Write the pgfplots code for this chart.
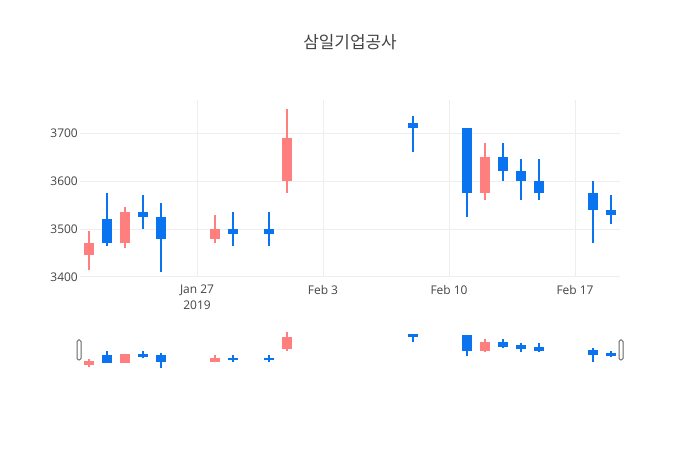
\documentclass[border=0pt]{standalone}
\usepackage{fontspec}
\setmainfont{Open Sans}
\newfontfamily\kr{Noto Sans CJK KR}
\usepackage{pgfplots}
\usepackage{pgfplotstable}
\pgfplotsset{compat=1.18}

\definecolor{upc}{HTML}{FF7F7F}
\definecolor{downc}{HTML}{0A73F0}
\definecolor{txt}{HTML}{444444}
\definecolor{gridc}{HTML}{EEEEEE}
\definecolor{handle}{HTML}{666666}

% day offset from Jan 27 2019
\pgfplotstableread{
d open high low close
-6 3445 3495 3415 3470
-4 3470 3545 3460 3535
1 3480 3530 3470 3500
5 3600 3750 3575 3690
16 3575 3680 3560 3650
}\upcandles

\pgfplotstableread{
d open high low close
-5 3520 3575 3465 3470
-3 3535 3570 3500 3525
-2 3525 3555 3410 3480
2 3500 3535 3465 3490
4 3500 3535 3465 3490
12 3720 3735 3660 3710
15 3710 3710 3525 3575
17 3650 3680 3600 3620
18 3620 3645 3560 3600
19 3600 3645 3560 3575
22 3575 3600 3470 3540
23 3540 3570 3510 3530
}\downcandles

\pgfplotsset{
  wick/.style={draw=none, mark=none, forget plot,
    error bars/.cd, y dir=plus, y explicit, error mark=none,
    error bar style={draw=#1, line width=2bp}},
  body/.style={draw=none, mark=none, forget plot,
    error bars/.cd, y dir=plus, y explicit, error mark=none,
    error bar style={draw=#1, line width=10.8bp}},
}

% #1: extra body height (data units) at each end, for the 1px outline
\newcommand{\candles}[1]{%
  \addplot[wick=upc] table[x=d, y=low, y error plus expr=\thisrow{high}-\thisrow{low}] {\upcandles};
  \addplot[body=upc] table[x=d, y expr=\thisrow{open}-#1, y error plus expr=\thisrow{close}-\thisrow{open}+2*#1] {\upcandles};
  \addplot[wick=downc] table[x=d, y=low, y error plus expr=\thisrow{high}-\thisrow{low}] {\downcandles};
  \addplot[body=downc] table[x=d, y expr=\thisrow{close}-#1, y error plus expr=\thisrow{open}-\thisrow{close}+2*#1] {\downcandles};
}

\begin{document}
\begin{tikzpicture}
\path[use as bounding box] (0,0) rectangle (700bp,450bp);

\node[font=\kr\fontsize{17}{20}\selectfont, text=txt] at (350bp,408bp) {삼일기업공사};

\begin{axis}[
  at={(80bp,173bp)}, anchor=south west,
  scale only axis, width=540bp, height=177bp,
  xmin=-6.5, xmax=23.5, ymin=3400, ymax=3769,
  axis x line*=bottom, axis y line*=left,
  axis line style={draw=none},
  major tick length=0pt,
  grid=major, major grid style={draw=gridc, line width=1bp},
  xtick={0,7,14,21},
  xticklabels={{Jan 27\\2019}, Feb 3, Feb 10, Feb 17},
  ytick={3400,3500,3600,3700},
  yticklabels={3400,3500,3600,3700},
  xticklabel style={anchor=north, inner sep=0pt, yshift=-8bp, align=center,
    font=\fontsize{12}{16}\selectfont, text=txt},
  yticklabel style={anchor=east, inner sep=0pt, xshift=-2bp,
    font=\fontsize{12}{16}\selectfont, text=txt},
]
\candles{0}
\end{axis}

% range slider
\begin{axis}[
  at={(80bp,80bp)}, anchor=south west,
  scale only axis, width=540bp, height=40bp,
  xmin=-6.5, xmax=23.5, ymin=3391, ymax=3769,
  hide axis,
]
\candles{9}
\end{axis}

\draw[handle, fill=white, line width=1bp, rounded corners=1.5bp] (77bp,90bp) rectangle (81bp,110bp);
\draw[handle, fill=white, line width=1bp, rounded corners=1.5bp] (619bp,90bp) rectangle (623bp,110bp);
\end{tikzpicture}
\end{document}
